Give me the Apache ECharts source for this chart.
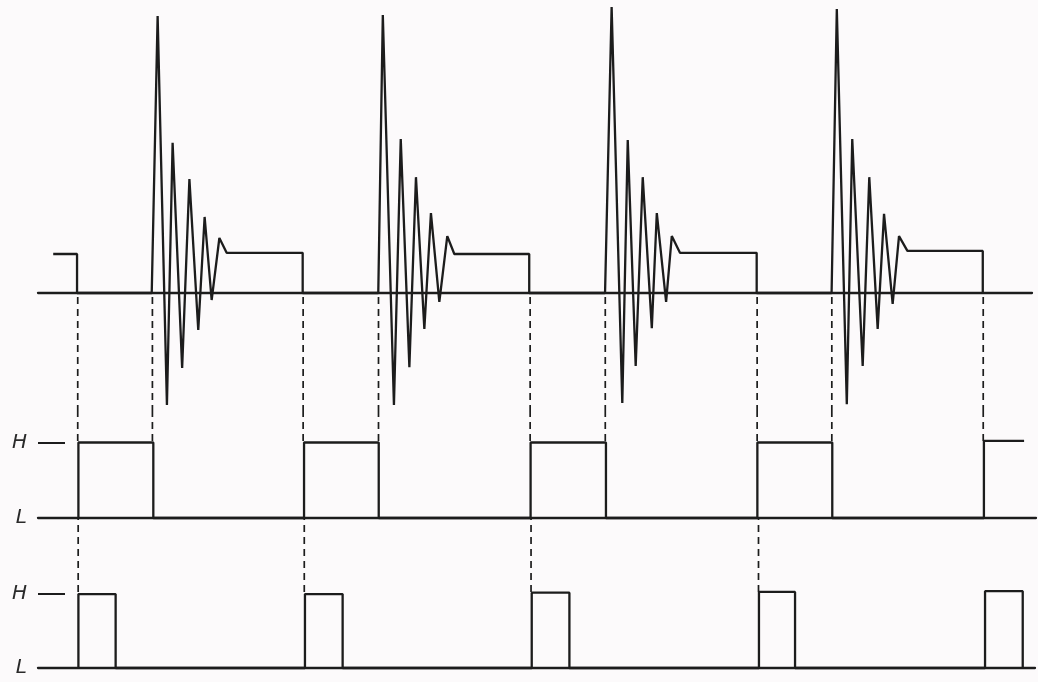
<!DOCTYPE html>
<html><head><meta charset="utf-8">
<script src="https://cdn.jsdelivr.net/npm/echarts@6/dist/echarts.min.js"></script>
<style>html,body{margin:0;padding:0;background:#fcfafb}#c{width:1038px;height:682px}</style>
</head><body><div id="c"></div>
<script>
// ---- data (time units: one period = 10; top amplitude: settled level ~ 1) ----
const leadT = [0.67, 1.72];
const leadV = [1.0, 1.0];
const burst1T = [5.01, 5.27, 5.68, 5.93, 6.35, 6.67, 7.06, 7.34, 7.65, 7.99, 8.31, 11.66];
const burst1V = [0, 7.10, -2.87, 3.85, -1.92, 2.92, -0.95, 1.95, -0.18, 1.41, 1.03, 1.03];
const burst2T = [14.99, 15.19, 15.68, 15.98, 16.36, 16.65, 17.02, 17.31, 17.68, 18.03, 18.34, 21.64];
const burst2V = [0, 7.13, -2.87, 3.95, -1.90, 2.97, -0.92, 2.05, -0.23, 1.46, 1.00, 1.00];
const burst3T = [24.98, 25.27, 25.74, 25.98, 26.33, 26.64, 27.04, 27.26, 27.67, 27.92, 28.28, 31.66];
const burst3V = [0, 7.33, -2.82, 3.92, -1.87, 2.97, -0.90, 2.05, -0.23, 1.46, 1.03, 1.03];
const burst4T = [34.96, 35.19, 35.63, 35.87, 36.33, 36.62, 36.99, 37.27, 37.65, 37.93, 38.30, 41.62];
const burst4V = [0, 7.28, -2.85, 3.95, -1.87, 2.97, -0.92, 2.03, -0.28, 1.46, 1.08, 1.08];

const sq1Rise = [1.78, 11.72, 21.70, 31.69, 41.67];
const sq1Fall = [5.08, 15.01, 25.02, 34.99, 43.44];
const sq1High = [1.00, 1.00, 1.00, 1.00, 1.02];
const sq1OpenEnd = true;

const sq2Rise = [1.78, 11.76, 21.75, 31.76, 41.72];
const sq2Fall = [3.42, 13.42, 23.41, 33.35, 43.38];
const sq2High = [1.00, 1.00, 1.02, 1.03, 1.04];

const dashTop = [1.75, 5.04, 11.68, 15.00, 21.68, 24.99, 31.68, 34.97, 41.64];
const dashMid = [1.77, 11.73, 21.72, 31.74];
const levelNames = ['L', 'H'];

// ---- build ----
const INK = '#1c1c1c';
const pxPerUnit = 22.7;

function topPoints() {
  const pts = [];
  leadT.forEach((t, i) => pts.push([t, leadV[i]]));
  pts.push([leadT[leadT.length - 1], 0]);
  [[burst1T, burst1V], [burst2T, burst2V], [burst3T, burst3V], [burst4T, burst4V]].forEach(([T, V]) => {
    T.forEach((t, i) => pts.push([t, V[i]]));
    pts.push([T[T.length - 1], 0]);
  });
  return pts;
}
function pulsePoints(rise, fall, high, openEnd) {
  const pts = [];
  rise.forEach((r, i) => {
    pts.push([r, 0], [r, high[i]], [fall[i], high[i]]);
    if (!(openEnd && i === rise.length - 1)) pts.push([fall[i], 0]);
  });
  return pts;
}

const solid = { color: INK, width: 2.3 };
const dashed = { color: INK, width: 1.7, type: [7, 5] };
function lineSeries(data, xi, style) {
  return { type: 'line', xAxisIndex: xi, yAxisIndex: xi, data, showSymbol: false, symbol: 'none',
    lineStyle: style, clip: false, silent: true, animation: false };
}

const grids = [
  { left: 38, right: 6, top: 6.35, bottom: 272 },
  { left: 38, right: 2, top: 410, bottom: 164 },
  { left: 38, right: 3, top: 518, bottom: 14 }
];
const xMax = [994 / pxPerUnit, 998 / pxPerUnit, 997 / pxPerUnit];
const yRange = [[-3, 7.35], [0, 1.43], [0, 2.03]];

const labelStyle = { fontFamily: 'DejaVu Sans', fontStyle: 'italic', fontSize: 20, color: '#2a2a2a', margin: 11 };

const series = [];
series.push(lineSeries(topPoints(), 0, solid));
series.push(lineSeries(pulsePoints(sq1Rise, sq1Fall, sq1High, sq1OpenEnd), 1, solid));
series.push(lineSeries(pulsePoints(sq2Rise, sq2Fall, sq2High, false), 2, solid));
dashTop.forEach(t => {
  series.push(lineSeries([[t, -0.1], [t, yRange[0][0]]], 0, dashed));
  series.push(lineSeries([[t, 1.02], [t, yRange[1][1]]], 1, dashed));
});
dashMid.forEach(t => {
  series.push(lineSeries([[t, 1.03], [t, yRange[2][1]]], 2, dashed));
});

const option = {
  backgroundColor: '#fcfafb',
  animation: false,
  grid: grids,
  xAxis: grids.map((g, i) => ({
    type: 'value', gridIndex: i, min: 0, max: xMax[i],
    axisLine: { show: true, onZero: true, lineStyle: { color: INK, width: 2.3 } },
    axisTick: { show: false }, axisLabel: { show: false }, splitLine: { show: false }
  })),
  yAxis: grids.map((g, i) => ({
    type: 'value', gridIndex: i, min: yRange[i][0], max: yRange[i][1],
    axisLine: { show: false },
    splitLine: { show: false },
    axisTick: i === 0 ? { show: false } : { show: true, inside: true, length: 27, customValues: [1], lineStyle: { color: INK, width: 2 } },
    axisLabel: i === 0 ? { show: false } : Object.assign({ show: true, customValues: [0, 1], formatter: v => levelNames[Math.round(v)] || '' }, labelStyle)
  })),
  series
};
const chart = echarts.init(document.getElementById('c'));
chart.setOption(option);
</script></body></html>
